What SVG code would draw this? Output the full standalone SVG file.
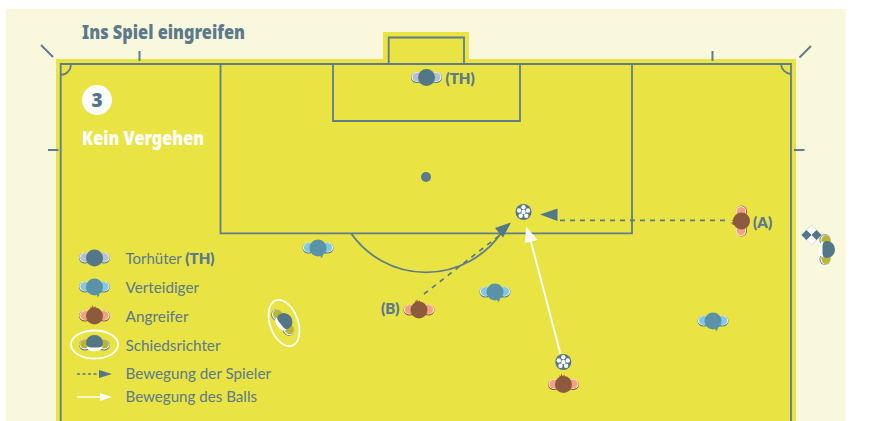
<svg xmlns="http://www.w3.org/2000/svg" xmlns:xlink="http://www.w3.org/1999/xlink" width="874" height="421" viewBox="0 0 874 421">
<style>
.ln{fill:none;stroke:#5f7d8c;stroke-width:1.800}
.tk{fill:none;stroke:#5f7d8c;stroke-width:2}
.lbl{font-family:"Lato","Noto Sans","Liberation Sans",sans-serif;font-size:15px;fill:#5b7a8c}
.b{font-weight:800}
.ttl{font-family:"Noto Sans","Liberation Sans",sans-serif;font-weight:900}
.dash{fill:none;stroke:#5b7a8c;stroke-width:1.700;stroke-dasharray:5 5}
.mv{fill:none;stroke:#fff;stroke-width:1.900}
</style>
<defs>
<symbol id="gk" overflow="visible" viewBox="-20 -20 40 40" width="40" height="40">
<ellipse cx="-9.500" cy="0" rx="6" ry="5.500" fill="#5b7a8c"/><ellipse cx="9.500" cy="0" rx="6" ry="5.500" fill="#5b7a8c"/>
<ellipse cx="-9.500" cy="-0.500" rx="5.600" ry="5.100" fill="#fff"/><ellipse cx="9.500" cy="-0.500" rx="5.600" ry="5.100" fill="#fff"/>
<ellipse cx="-9" cy="-0.500" rx="5.200" ry="4.500" fill="#b3c3cd"/><ellipse cx="9" cy="-0.500" rx="5.200" ry="4.500" fill="#b3c3cd"/>
<circle r="8.500" fill="#547689"/>
</symbol>
<symbol id="def" overflow="visible" viewBox="-20 -20 40 40" width="40" height="40">
<ellipse cx="-9.500" cy="0" rx="6" ry="5.500" fill="#5b7a8c"/><ellipse cx="9.500" cy="0" rx="6" ry="5.500" fill="#5b7a8c"/>
<ellipse cx="-9.500" cy="-0.500" rx="5.600" ry="5.100" fill="#fff"/><ellipse cx="9.500" cy="-0.500" rx="5.600" ry="5.100" fill="#fff"/>
<ellipse cx="-9" cy="-0.500" rx="5.200" ry="4.500" fill="#85c8de"/><ellipse cx="9" cy="-0.500" rx="5.200" ry="4.500" fill="#85c8de"/>
<circle r="8.500" fill="#5a93a8"/><path d="M1 6l4 3-1-3 5-1-4 0zM2 6l1 4.500 2-3z" fill="#5a93a8"/>
</symbol>
<symbol id="att" overflow="visible" viewBox="-20 -20 40 40" width="40" height="40">
<ellipse cx="-9.500" cy="0" rx="6" ry="5.500" fill="#8d5a3e"/><ellipse cx="9.500" cy="0" rx="6" ry="5.500" fill="#8d5a3e"/>
<ellipse cx="-9.500" cy="-0.500" rx="5.600" ry="5.100" fill="#fff"/><ellipse cx="9.500" cy="-0.500" rx="5.600" ry="5.100" fill="#fff"/>
<ellipse cx="-9" cy="-0.500" rx="5.200" ry="4.500" fill="#f5a07e"/><ellipse cx="9" cy="-0.500" rx="5.200" ry="4.500" fill="#f5a07e"/>
<circle r="8.500" fill="#8d5a3e"/><path d="M-4-6.500l0-3 1 1.500 1-3 1 3 2-2 0 4z" fill="#8d5a3e"/>
</symbol>
<symbol id="ref" overflow="visible" viewBox="-20 -20 40 40" width="40" height="40">
<ellipse cx="-9.500" cy="1" rx="6" ry="5.500" fill="#5b7a8c"/><ellipse cx="9.500" cy="1" rx="6" ry="5.500" fill="#5b7a8c"/>
<ellipse cx="-9.500" cy="0.500" rx="5.600" ry="5.100" fill="#fff"/><ellipse cx="9.500" cy="0.500" rx="5.600" ry="5.100" fill="#fff"/>
<ellipse cx="-9" cy="0" rx="5.500" ry="4.600" fill="#b9b43a"/><ellipse cx="9" cy="0" rx="5.500" ry="4.600" fill="#b9b43a"/>
<path d="M-8 1a8 5 0 0 0 16 0z" fill="#fff" transform="translate(0 1.500)"/>
<path d="M-8.500-1a8.500 8 0 0 1 17 0q0 4-4.500 4.500h-8q-4.500-.5-4.500-4.500z" fill="#547689"/>
</symbol>
<symbol id="ball" overflow="visible" viewBox="-10 -10 20 20" width="20" height="20">
<circle r="8" fill="#547689"/>
<circle r="2.200" fill="#fff"/>
<circle cx="0" cy="-4.700" r="2.200" fill="#fff"/><circle cx="-4.500" cy="-1.500" r="2.200" fill="#fff"/><circle cx="4.500" cy="-1.500" r="2.200" fill="#fff"/>
<circle cx="-2.800" cy="3.800" r="2.200" fill="#fff"/><circle cx="2.800" cy="3.800" r="2.200" fill="#fff"/>
</symbol>
</defs>

<rect x="0" y="0" width="874" height="421" fill="#fff"/>
<rect x="6" y="9" width="840" height="412" fill="#f9f7dc"/>
<path d="M56 59H383V32H469V59H796V421H56z" fill="#e9e343"/>

<g id="pitch">
<path class="ln" d="M60.700 421V64H791V421"/>
<path class="ln" d="M220.500 64V233.300H632V64M333 64V121H520V64M388.700 64V37.500H464V64"/>
<path class="ln" d="M351 233.300A91.600 91.600 0 0 0 501 233.300"/>
<path class="ln" d="M71 64A10.500 10.500 0 0 1 60.700 75M781 64A10.500 10.500 0 0 0 791 74"/>
<circle cx="426" cy="177" r="5" fill="#5b7a8c"/>
<path class="tk" d="M41 45L53 57M139.500 51V61M712.500 51V61M811 46L799.500 57.500M48 150H58.500M794 150H804.500"/>
</g>

<text class="ttl" x="82" y="39" font-size="20" fill="#5b7a8c" textLength="163" lengthAdjust="spacingAndGlyphs">Ins Spiel eingreifen</text>

<g id="badge">
<circle cx="97" cy="100" r="15" fill="#fff"/>
<text class="ttl" x="97" y="107" font-size="19" fill="#547689" text-anchor="middle">3</text>
</g>
<text class="ttl" x="82" y="145" font-size="20" fill="#fff" textLength="122" lengthAdjust="spacingAndGlyphs">Kein Vergehen</text>

<g id="connectors">
<path class="dash" d="M725 220.300H557"/>
<path d="M540 214.500L557.500 208.500V221z" fill="#547689"/>
<path class="dash" d="M424 294L500 235"/>
<path d="M511 222.500L495 228L503 237.500z" fill="#547689"/>
<path class="mv" d="M560.500 354L530 238"/>
<path d="M526 226.500L525 243L537.500 240z" fill="#fff"/>
</g>

<g id="legend">
<use xlink:href="#gk" href="#gk" x="74.500" y="238"/>
<text class="lbl" x="125.500" y="263.500" textLength="89" lengthAdjust="spacingAndGlyphs">Torhüter <tspan class="b">(TH)</tspan></text>
<use xlink:href="#def" href="#def" x="74.500" y="267"/>
<text class="lbl" x="125.500" y="292.500" textLength="73.500" lengthAdjust="spacingAndGlyphs">Verteidiger</text>
<use xlink:href="#att" href="#att" x="74.500" y="296"/>
<text class="lbl" x="125.500" y="321.500" textLength="63" lengthAdjust="spacingAndGlyphs">Angreifer</text>
<use xlink:href="#ref" href="#ref" x="74.500" y="324"/>
<ellipse cx="94.500" cy="344.500" rx="23.500" ry="14" fill="none" stroke="#fff" stroke-width="1.800"/>
<text class="lbl" x="125.500" y="350.500" textLength="95" lengthAdjust="spacingAndGlyphs">Schiedsrichter</text>
<path d="M77 374H99" fill="none" stroke="#5b7a8c" stroke-width="1.300" stroke-dasharray="3 2.500"/>
<path d="M99 370L112 374L99 378z" fill="#547689"/>
<text class="lbl" x="125.500" y="378.500" textLength="145.500" lengthAdjust="spacingAndGlyphs">Bewegung der Spieler</text>
<path d="M77 397H100" fill="none" stroke="#fff" stroke-width="1.500"/>
<path d="M100 393L112 397L100 401z" fill="#fff"/>
<text class="lbl" x="125.500" y="401.500" textLength="131.500" lengthAdjust="spacingAndGlyphs">Bewegung des Balls</text>
</g>

<g id="goalkeeper"><use xlink:href="#gk" href="#gk" x="406.500" y="57.500"/><text class="lbl b" x="445.500" y="83.500">(TH)</text></g>
<g id="defender-1"><use xlink:href="#def" href="#def" x="298" y="228"/></g>
<g id="defender-2"><use xlink:href="#def" href="#def" x="475" y="272"/></g>
<g id="defender-3"><use xlink:href="#def" href="#def" x="693" y="301"/></g>
<g id="attacker-a"><g transform="translate(741.500 221) rotate(-90)"><use xlink:href="#att" href="#att" x="-20" y="-20"/></g><text class="lbl b" x="753" y="227.500">(A)</text></g>
<g id="attacker-b"><use xlink:href="#att" href="#att" x="399" y="290"/><text class="lbl b" x="381" y="313.500">(B)</text></g>
<g id="attacker-c"><use xlink:href="#att" href="#att" x="543.500" y="364.500"/></g>
<g id="referee">
<g transform="translate(283.500 322) rotate(52)"><use xlink:href="#ref" href="#ref" x="-20" y="-20"/></g>
<ellipse cx="284" cy="323" rx="24" ry="14" transform="rotate(70 284 323)" fill="none" stroke="#fff" stroke-width="1.800"/>
</g>
<g id="assistant-referee">
<g transform="translate(826 249.500) rotate(90)"><use xlink:href="#ref" href="#ref" x="-20" y="-20"/></g>
<path d="M811.500 225L821.500 235L811.500 245L801.500 235z" fill="#fff" stroke="#b8c6cd" stroke-width=".6"/>
<path d="M806.500 230L811.500 235L806.500 240L801.500 235zM816.500 230L821.500 235L816.500 240L811.500 235z" fill="#547689"/>
</g>
<g id="ball-1"><use xlink:href="#ball" href="#ball" x="513.500" y="202"/></g>
<g id="ball-2"><use xlink:href="#ball" href="#ball" x="553.300" y="352"/></g>
</svg>
